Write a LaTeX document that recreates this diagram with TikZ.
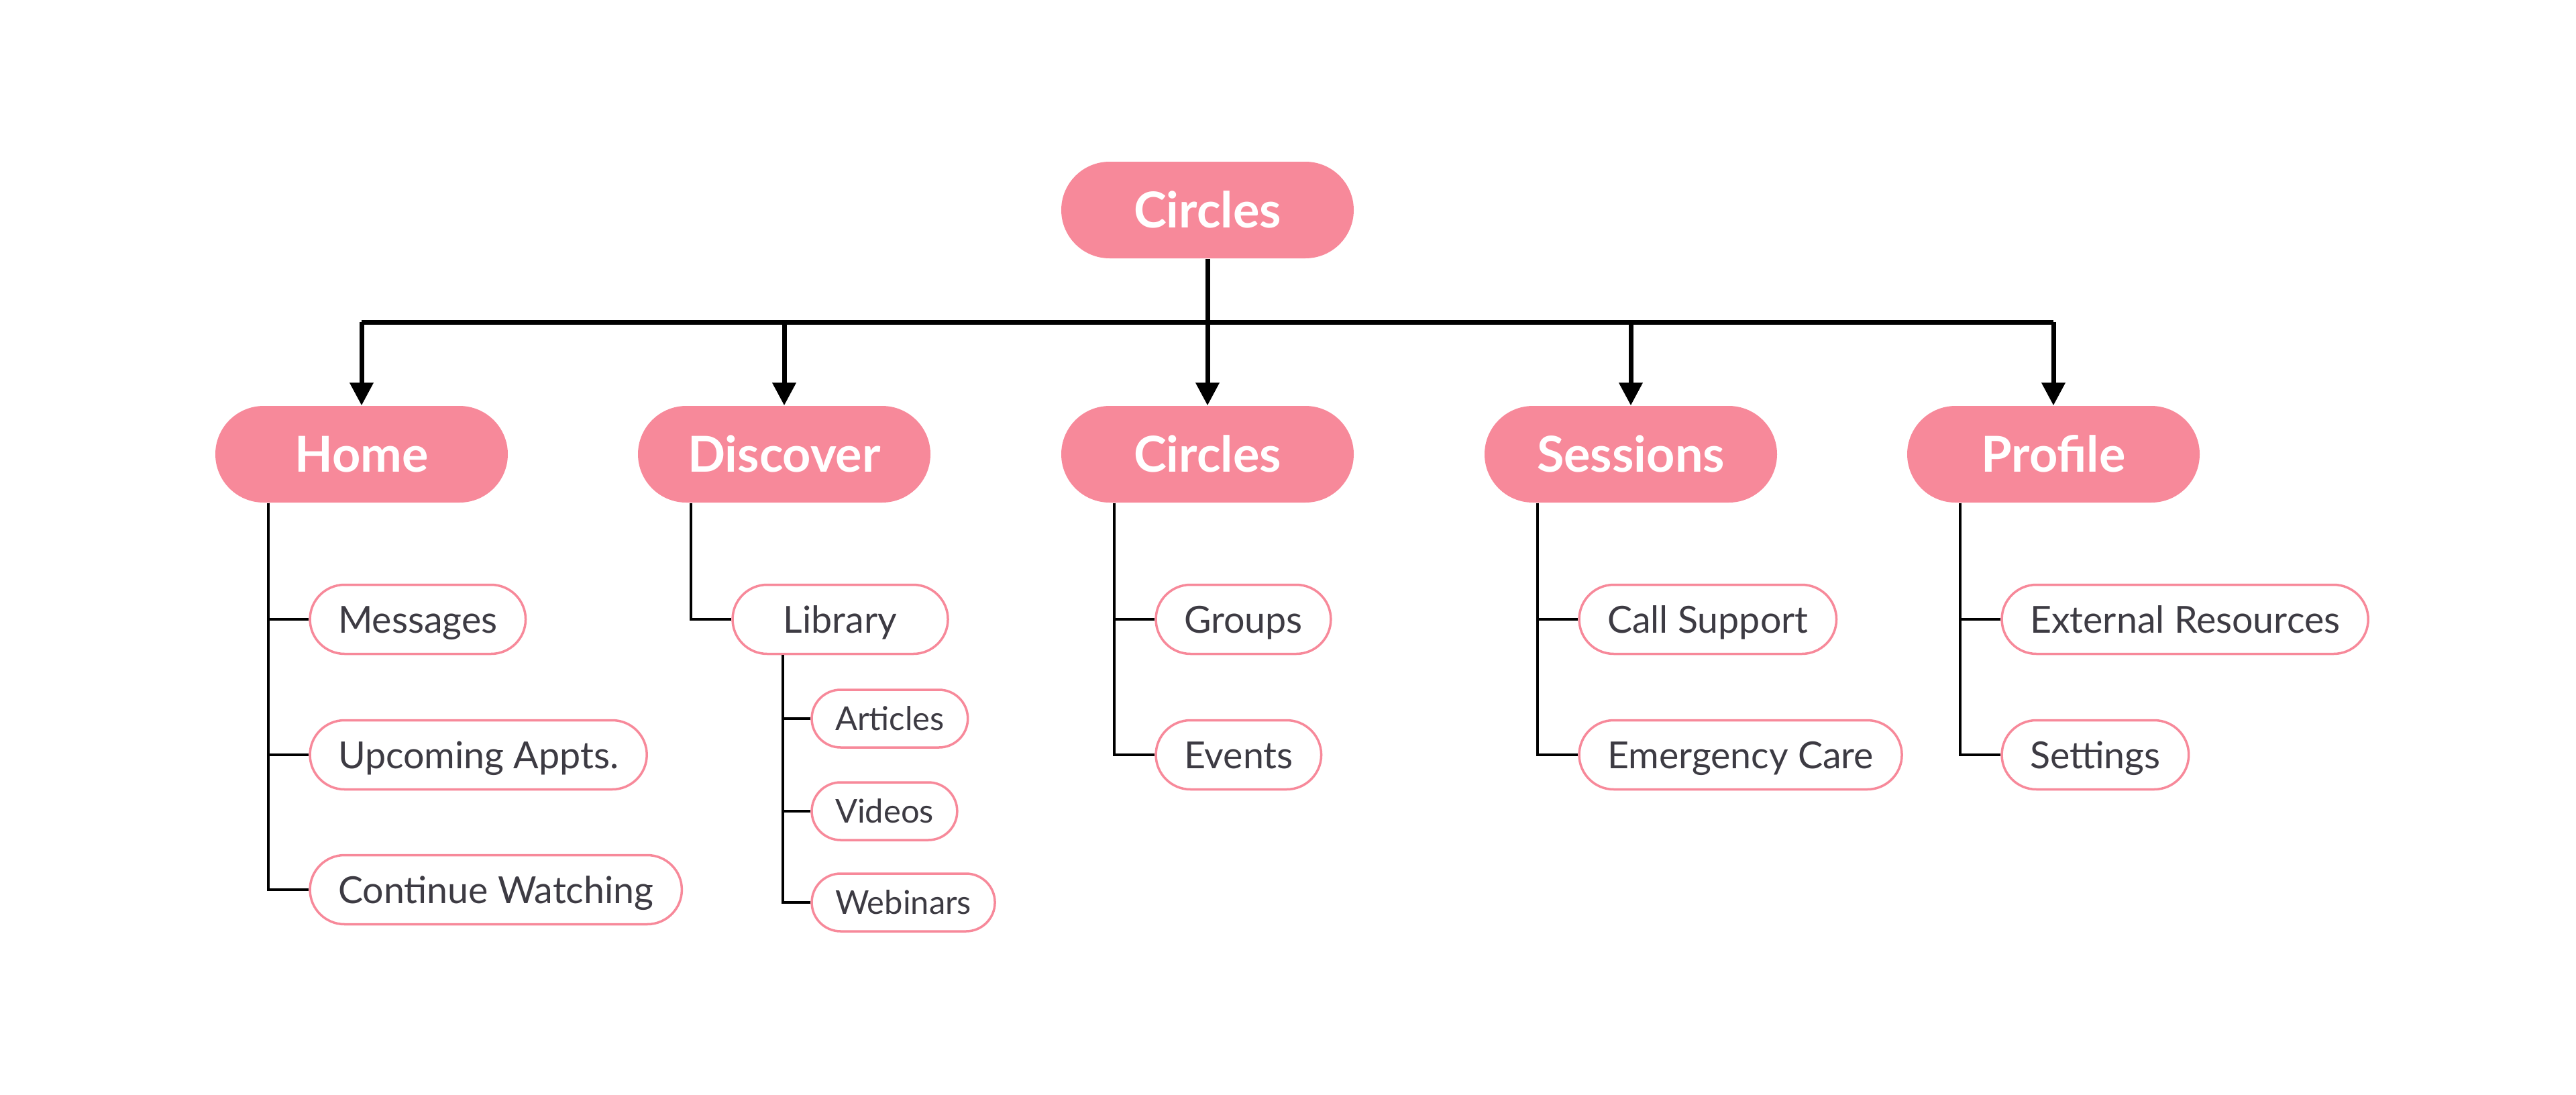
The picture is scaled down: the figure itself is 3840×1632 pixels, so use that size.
\documentclass[tikz,border=0pt]{standalone}
\usepackage{fontspec}
\setmainfont{Lato}
\usetikzlibrary{arrows.meta}
\definecolor{rose}{HTML}{F7899A}
\definecolor{ink}{HTML}{3D3B43}
\tikzset{
  main/.style={fill=rose, text=white, rounded corners=7.2mm, minimum width=43.6mm, minimum height=14.4mm,
    text height=15pt, text depth=0pt, font=\fontsize{21}{24}\selectfont\bfseries},
  leaf/.style={draw=rose, line width=0.35mm, fill=white, text=ink, anchor=west, rounded corners=5.15mm,
    minimum height=10.3mm, inner xsep=4.2mm, text height=11.6pt, text depth=0pt, font=\fontsize{15.8}{19}\selectfont},
  subleaf/.style={leaf, rounded corners=4.3mm, minimum height=8.6mm, inner xsep=3.5mm,
    text height=10pt, font=\fontsize{13.9}{17}\selectfont},
  trunk/.style={line width=0.7mm},
  twig/.style={line width=0.4mm},
}
\begin{document}
\begin{tikzpicture}[x=0.1mm, y=-0.1mm, >={Triangle[length=3.4mm,width=3.4mm]}]
\useasboundingbox (0,0) rectangle (3840,1632);
% root and sections
\node[main] (root) at (1800,313) {Circles};
\foreach \n/\t/\x in {home/Home/539, disc/Discover/1169, circ/Circles/1800, sess/Sessions/2431, prof/Profile/3061}{
  \node[main] (\n) at (\x,677) {\t};
  \coordinate (\n L) at ([xshift=8mm]\n.south west);
}
\coordinate (bar) at (root.south |- 0,480);
\draw[trunk] (home |- bar) -- (prof |- bar);
\draw[trunk,->] (root.south) -- (circ.north);
\foreach \n in {home,disc,sess,prof} \draw[trunk,->] (bar -| \n.north) -- (\n.north);
% second level
\foreach \p/\n/\t/\y/\w in {home/msg/Messages/923/0, home/appt/Upcoming Appts./1125/0, home/watch/Continue Watching/1326/0,
    disc/lib/Library/923/32.1, circ/grp/Groups/923/0, circ/evt/Events/1125/0,
    sess/call/Call Support/923/0, sess/emer/Emergency Care/1125/0,
    prof/ext/External Resources/923/0, prof/set/Settings/1125/0}{
  \node[leaf, minimum width=\w mm] (\n) at ([xshift=6mm]\p L |- 0,\y) {\t};
  \draw[twig] (\p L) |- (\n.west);
}
% library
\coordinate (libL) at ([xshift=7.7mm]lib.south west);
\foreach \n/\t/\y in {art/Articles/1071, vid/Videos/1209, web/Webinars/1345}{
  \node[subleaf] (\n) at ([xshift=4.1mm]libL |- 0,\y) {\t};
  \draw[twig] (libL) |- (\n.west);
}
\end{tikzpicture}
\end{document}
